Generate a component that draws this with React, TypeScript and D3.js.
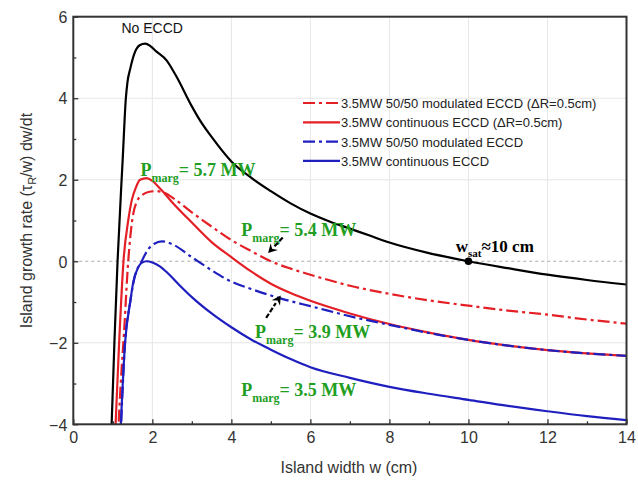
import * as d3 from "d3";
import { useRef, useEffect } from "react";

// island width w (cm), growth rate (tau_R/w) dw/dt
const noEccd = [
  [0.95, -4.5], [0.97, -4], [1.04, -2], [1.12, 0], [1.25, 2.5], [1.33, 4], [1.37, 4.39],
  [1.44, 4.72], [1.56, 5.13], [1.68, 5.3], [1.82, 5.34], [1.95, 5.28], [2.1, 5.15],
  [2.36, 4.93], [2.6, 4.55], [3, 3.8], [3.21, 3.45], [3.5, 3.05], [4, 2.45], [4.5, 2.05],
  [5, 1.72], [5.5, 1.42], [6, 1.17], [6.5, 0.97], [7, 0.8], [7.5, 0.63], [8, 0.46],
  [9, 0.2], [10, 0], [11, -0.17], [12, -0.33], [13, -0.46], [14, -0.57],
];
const modulatedDR = [
  [1.12, -4.5], [1.2, -3], [1.28, -1.8], [1.39, 0], [1.49, 1], [1.6, 1.45], [1.75, 1.63],
  [1.9, 1.7], [2.1, 1.72], [2.3, 1.68], [2.6, 1.5], [3, 1.2], [3.5, 0.85], [4, 0.52],
  [4.5, 0.25], [5, 0.0], [5.5, -0.18], [6, -0.33], [7, -0.6], [8, -0.8], [9, -0.96],
  [10, -1.09], [11, -1.21], [12, -1.31], [13, -1.43], [14, -1.53],
];
const continuousDR = [
  [1.05, -4.5], [1.07, -4], [1.16, -2], [1.27, 0], [1.39, 1], [1.48, 1.5], [1.58, 1.8],
  [1.69, 2.0], [1.86, 2.04], [2.0, 1.97], [2.2, 1.78], [2.5, 1.45], [3, 0.95], [3.5, 0.47],
  [4, 0.1], [4.5, -0.25], [5, -0.55], [5.5, -0.78], [6, -0.97], [7, -1.28], [8, -1.54],
  [9, -1.75], [10, -1.93], [11, -2.07], [12, -2.18], [13, -2.26], [14, -2.32],
];
const modulated = [
  [1.19, -4.5], [1.31, -2], [1.44, -1], [1.55, -0.4], [1.73, 0], [1.9, 0.3], [2.05, 0.43],
  [2.24, 0.49], [2.5, 0.42], [3, 0.1], [3.5, -0.22], [4, -0.5], [4.5, -0.68], [5, -0.84],
  [5.5, -0.98], [6, -1.1], [7, -1.35], [8, -1.56], [9, -1.76], [10, -1.93], [11, -2.07],
  [12, -2.18], [13, -2.26], [14, -2.32],
];
const continuous = [
  [1.18, -4.5], [1.31, -2], [1.44, -1], [1.52, -0.5], [1.62, -0.2], [1.73, -0.04],
  [1.86, 0.0], [2.0, -0.03], [2.2, -0.13], [2.4, -0.3], [2.7, -0.6], [3, -0.88],
  [3.5, -1.28], [4, -1.62], [4.5, -1.92], [5, -2.17], [5.5, -2.4], [6, -2.6], [7, -2.86],
  [8, -3.08], [9, -3.25], [10, -3.4], [11, -3.55], [12, -3.68], [13, -3.8], [14, -3.9],
];

const xTicks = [0, 2, 4, 6, 8, 10, 12, 14];
const xMinor = [1, 3, 5, 7, 9, 11, 13];
const yTicks = [-4, -2, 0, 2, 4, 6];
const yMinor = [-3, -1, 1, 3, 5];

const legendLabels = [
  "3.5MW 50/50 modulated ECCD (\u0394R=0.5cm)",
  "3.5MW continuous ECCD (\u0394R=0.5cm)",
  "3.5MW 50/50 modulated ECCD",
  "3.5MW continuous ECCD",
];

// annotations: [w, rate, value]
const pmargLabels = [
  [1.7, 2.1, "5.7 MW"],
  [4.25, 0.63, "5.4 MW"],
  [4.6, -1.88, "3.9 MW"],
  [4.25, -3.31, "3.5 MW"],
];

const App = () => {
  const container = useRef(null);

  useEffect(() => {
    let node = container.current;
    let width = 638;
    let height = 480;
    let margins = { t: 16.7, l: 73.3, r: 11.5, b: 55.7 };

    let red = "#e41f26";
    let blue = "#1f1fbf";
    let green = "#1f9e1f";
    let dashDot = "12,4,3,4";

    let series = [
      { data: noEccd, color: "#000", dash: null },
      { data: modulatedDR, color: red, dash: dashDot },
      { data: continuousDR, color: red, dash: null },
      { data: modulated, color: blue, dash: dashDot },
      { data: continuous, color: blue, dash: null },
    ];

    let svg = d3
      .select(node)
      .selectAll("svg")
      .data([0])
      .join("svg")
      .attr("width", width)
      .attr("height", height)
      .style("position", "absolute")
      .style("left", 0)
      .style("top", 0)
      .style("background", "#fff");
    svg.selectAll("*").remove();

    let xScale = d3.scaleLinear().domain([0, 14]).range([margins.l, width - margins.r]);
    let yScale = d3.scaleLinear().domain([-4, 6]).range([height - margins.b, margins.t]);
    let [x0, x1] = xScale.range();
    let [y0, y1] = yScale.range();

    svg
      .append("defs")
      .append("clipPath")
      .attr("id", "plot-clip")
      .append("rect")
      .attr("x", x0)
      .attr("y", y1)
      .attr("width", x1 - x0)
      .attr("height", y0 - y1);

    // grid
    let gridg = svg.append("g").attr("class", "grid-g");
    gridg
      .selectAll(".vgrid")
      .data(xTicks.slice(1, -1))
      .join("line")
      .attr("x1", (d) => xScale(d))
      .attr("x2", (d) => xScale(d))
      .attr("y1", y0)
      .attr("y2", y1)
      .attr("stroke", "#e6e6e6")
      .attr("stroke-width", 1);
    gridg
      .selectAll(".hgrid")
      .data(yTicks.filter((d) => d !== 0).slice(1, -1))
      .join("line")
      .attr("x1", x0)
      .attr("x2", x1)
      .attr("y1", (d) => yScale(d))
      .attr("y2", (d) => yScale(d))
      .attr("stroke", "#e6e6e6")
      .attr("stroke-width", 1);
    gridg
      .append("line")
      .attr("x1", x0)
      .attr("x2", x1)
      .attr("y1", yScale(0))
      .attr("y2", yScale(0))
      .attr("stroke", "#aaa")
      .attr("stroke-width", 1)
      .attr("stroke-dasharray", "3,3");

    // curves
    let lineGen = d3
      .line()
      .x((d) => xScale(d[0]))
      .y((d) => yScale(d[1]))
      .curve(d3.curveMonotoneX);
    svg
      .append("g")
      .attr("clip-path", "url(#plot-clip)")
      .selectAll(".data-line")
      .data(series)
      .join("path")
      .attr("class", "data-line")
      .attr("d", (d) => lineGen(d.data))
      .attr("fill", "none")
      .attr("stroke", (d) => d.color)
      .attr("stroke-width", 2.2)
      .attr("stroke-dasharray", (d) => d.dash);

    // axes
    let tickFont = "Liberation Sans, Arial, sans-serif";
    let xaxisg = svg.append("g").attr("transform", `translate(0,${y0})`);
    xaxisg.call(
      d3.axisBottom(xScale).tickValues(xTicks).tickSize(-5).tickPadding(7).tickSizeOuter(0)
    );
    let xminorg = svg.append("g").attr("transform", `translate(0,${y0})`);
    xminorg.call(
      d3.axisBottom(xScale).tickValues(xMinor).tickSize(-3).tickFormat(() => "").tickSizeOuter(0)
    );
    let yaxisg = svg.append("g").attr("transform", `translate(${x0},0)`);
    yaxisg.call(
      d3.axisLeft(yScale).tickValues(yTicks).tickSize(-5).tickPadding(6).tickSizeOuter(0)
    );
    let yminorg = svg.append("g").attr("transform", `translate(${x0},0)`);
    yminorg.call(
      d3.axisLeft(yScale).tickValues(yMinor).tickSize(-3).tickFormat(() => "").tickSizeOuter(0)
    );
    [xaxisg, xminorg, yaxisg, yminorg].forEach((g) => {
      g.select(".domain").remove();
      g.selectAll(".tick line").attr("stroke", "#333").attr("stroke-width", 1.3);
      g.selectAll(".tick text")
        .attr("fill", "#333")
        .style("font-family", tickFont)
        .style("font-size", "16px");
    });
    yaxisg.selectAll(".tick text").attr("dy", "0.36em");

    // frame
    svg
      .append("rect")
      .attr("x", x0)
      .attr("y", y1)
      .attr("width", x1 - x0)
      .attr("height", y0 - y1)
      .attr("fill", "none")
      .attr("stroke", "#333")
      .attr("stroke-width", 2);

    // axis titles
    svg
      .append("text")
      .attr("x", (x0 + x1) / 2 - 1)
      .attr("y", 473)
      .attr("text-anchor", "middle")
      .attr("fill", "#333")
      .style("font-family", tickFont)
      .style("font-size", "16px")
      .text("Island width w (cm)");

    let ytitle = svg
      .append("text")
      .attr("transform", `translate(32,${(y0 + y1) / 2})rotate(-90)`)
      .attr("text-anchor", "middle")
      .attr("fill", "#333")
      .style("font-family", tickFont)
      .style("font-size", "16px");
    ytitle.append("tspan").text("Island growth rate (\u03c4");
    ytitle.append("tspan").attr("dy", 4).style("font-size", "11px").text("R");
    ytitle.append("tspan").attr("dy", -4).text("/w) dw/dt");

    // legend
    let legendg = svg.append("g").attr("transform", "translate(303,103)");
    legendg
      .selectAll(".legend-line")
      .data(series.slice(1))
      .join("line")
      .attr("x1", 0)
      .attr("x2", 37)
      .attr("y1", (d, i) => 19.3 * i)
      .attr("y2", (d, i) => 19.3 * i)
      .attr("stroke", (d) => d.color)
      .attr("stroke-width", 2.2)
      .attr("stroke-dasharray", (d) => d.dash);
    legendg
      .selectAll(".legend-text")
      .data(legendLabels)
      .join("text")
      .attr("x", 38)
      .attr("y", (d, i) => 19.3 * i + 5)
      .attr("fill", "#222")
      .style("font-family", tickFont)
      .style("font-size", "13px")
      .text((d) => d);

    // annotations
    svg
      .append("text")
      .attr("x", xScale(1.22))
      .attr("y", yScale(5.6))
      .attr("fill", "#111")
      .style("font-family", tickFont)
      .style("font-size", "14px")
      .text("No ECCD");

    let serif = "Liberation Serif, Times New Roman, serif";
    let pg = svg.append("g");
    pmargLabels.forEach(([w, r, v]) => {
      let t = pg
        .append("text")
        .attr("x", xScale(w))
        .attr("y", yScale(r))
        .attr("fill", green)
        .style("font-family", serif)
        .style("font-weight", "bold")
        .style("font-size", "18px");
      t.append("tspan").text("P");
      t.append("tspan").attr("dy", 6).style("font-size", "12px").text("marg");
      t.append("tspan").attr("dy", -6).text("= " + v);
    });

    svg
      .append("circle")
      .attr("cx", xScale(10))
      .attr("cy", yScale(0))
      .attr("r", 3.8)
      .attr("fill", "#000");
    let wsat = svg
      .append("text")
      .attr("x", xScale(9.68))
      .attr("y", yScale(0.22))
      .attr("fill", "#000")
      .style("font-family", serif)
      .style("font-weight", "bold")
      .style("font-size", "17px");
    wsat.append("tspan").text("w");
    wsat.append("tspan").attr("dy", 5).style("font-size", "11px").text("sat");
    wsat.append("tspan").attr("dy", -5).text("\u224810 cm");

    // arrows
    let arrows = [
      [5.3, 0.58, 4.93, 0.2],
      [4.88, -1.39, 5.25, -0.84],
    ];
    arrows.forEach(([ax, ay, bx, by]) => {
      let sx = xScale(ax),
        sy = yScale(ay),
        ex = xScale(bx),
        ey = yScale(by);
      let ang = Math.atan2(ey - sy, ex - sx);
      let hl = 9,
        hw = 5;
      let bxp = ex - hl * Math.cos(ang),
        byp = ey - hl * Math.sin(ang);
      svg
        .append("line")
        .attr("x1", sx)
        .attr("y1", sy)
        .attr("x2", bxp)
        .attr("y2", byp)
        .attr("stroke", "#000")
        .attr("stroke-width", 2.2)
        .attr("stroke-dasharray", "5,2");
      let px = -Math.sin(ang) * hw,
        py = Math.cos(ang) * hw;
      svg
        .append("path")
        .attr(
          "d",
          `M${ex},${ey}L${bxp + px},${byp + py}L${bxp + 0.35 * hl * Math.cos(ang)},${
            byp + 0.35 * hl * Math.sin(ang)
          }L${bxp - px},${byp - py}Z`
        )
        .attr("fill", "#000");
    });
  }, []);

  return <div ref={container} style={{ width: 638, height: 480 }}></div>;
};

export default App;
